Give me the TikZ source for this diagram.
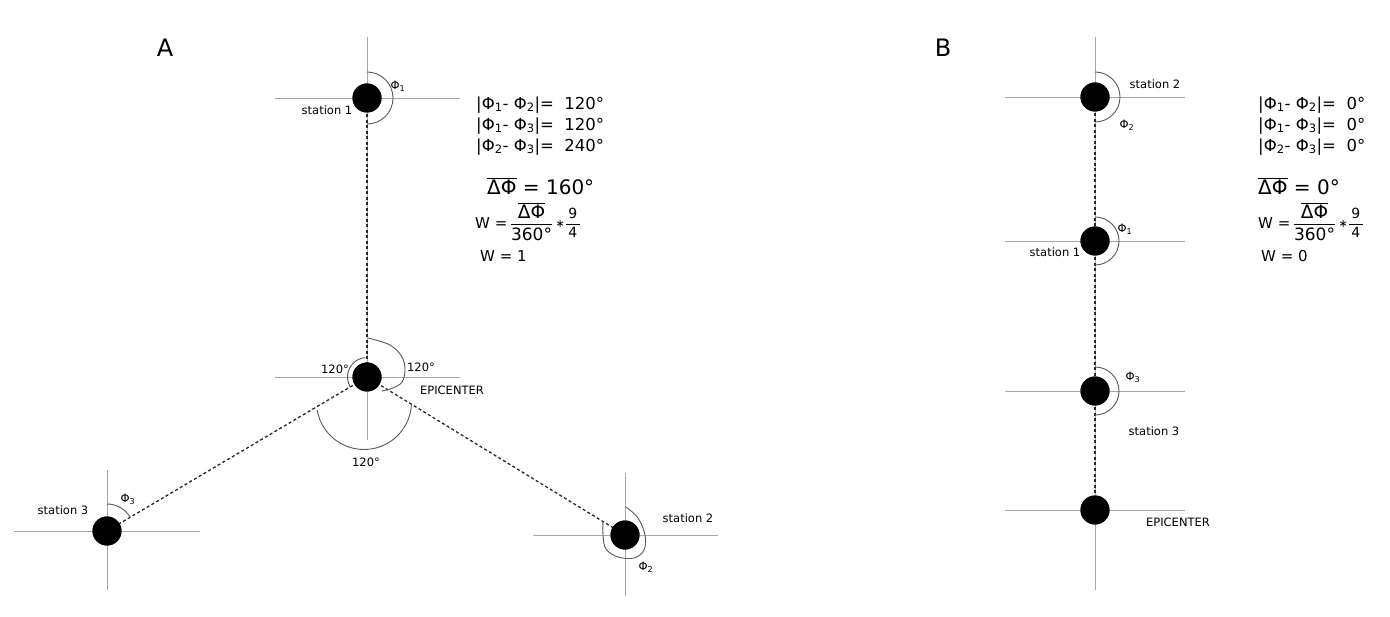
\documentclass[tikz,border=0pt]{standalone}
\usepackage{fontspec}
\setmainfont{DejaVu Sans}
\newcommand{\wfrac}{W =\,$\displaystyle\frac{\hbox{\fontsize{18.5}{21}\selectfont$\overline{\hbox{ΔΦ}}$}}{\hbox{\fontsize{17}{20}\selectfont\rule{0pt}{15pt}360°}}$\,\raisebox{1pt}{\fontsize{11}{12}\selectfont ∗}$\displaystyle\frac{\hbox{\fontsize{14}{16}\selectfont\,9\,}}{\hbox{\fontsize{14}{16}\selectfont\rule{0pt}{12pt}\,4\,}}$}
\begin{document}
\begin{tikzpicture}[x=1pt,y=1pt,
  axis/.style={draw=black!35, line width=0.7pt},
  ang/.style={draw=black!65, line width=0.9pt},
  link/.style={draw=black!85, line width=1.3pt, dash pattern=on 3pt off 2.5pt},
  dot/.style={circle, fill=black, inner sep=0pt, minimum size=29pt},
  lbl/.style={font=\fontsize{11.5}{13}\selectfont, inner sep=0pt},
  big/.style={font=\fontsize{24}{28}\selectfont, inner sep=0pt},
  eq/.style={font=\fontsize{16.5}{19}\selectfont, inner sep=0pt, anchor=west},
  eqw/.style={font=\fontsize{15}{18}\selectfont, inner sep=0pt, anchor=west},
  eqbig/.style={font=\fontsize{20}{24}\selectfont, inner sep=0pt, anchor=west}]
\useasboundingbox (0,-617) rectangle (1390,0);
\fill[white] (0,-617) rectangle (1390,0);

% ================= Panel A =================
\node[big] (labA) at (165,-48) {A};
% axes
\draw[axis] (275,-98) -- (460,-98);
\draw[axis] (367,-37) -- (367,-440);
\draw[axis] (275,-377) -- (460,-377);
\draw[axis] (14,-531) -- (200,-531);
\draw[axis] (107,-470) -- (107,-590);
\draw[axis] (533,-535) -- (718,-535);
\draw[axis] (625,-473) -- (625,-596);

\node[dot] (s1) at (367,-98) {};
\node[dot] (ep) at (367,-377) {};
\node[dot] (s3) at (107,-531) {};
\node[dot] (s2) at (625,-535) {};

\draw[link] (s1.center) -- (ep.center);
\draw[link] (ep.center) -- (s3.center);
\draw[link] (ep.center) -- (s2.center);
\fill[black] (ep) circle (14.5pt);
\fill[black] (s1) circle (14.5pt);
\fill[black] (s3) circle (14.5pt);
\fill[black] (s2) circle (14.5pt);

% angle arcs
\draw[ang] ([shift={(90:26)}]s1.center) arc[start angle=90, end angle=-90, radius=26];
\draw[ang] ([shift={(90:27)}]s3.center) arc[start angle=90, end angle=30.6, radius=27];
\draw[ang] plot[smooth, tension=0.6] coordinates {(626,-507) (638,-518) (645,-535) (644,-550) (634,-558) (618,-557) (606,-549) (603,-535) (603,-521)};
\draw[ang] plot[smooth, tension=0.6] coordinates {(368,-338) (390,-345) (402,-357) (405,-370) (402,-382) (393,-388) (382,-391)};
\draw[ang] ([shift={(95:19.5)}]ep.center) arc[start angle=95, end angle=212, radius=19.5];
\draw[ang] (364,-402) ++(189.7:47.5) arc[start angle=189.7, end angle=358.8, radius=47.5];

% labels
\node[lbl] (t1) at (327,-110) {station 1};
\node[lbl] (p1) at (398,-86) {Φ\textsubscript{1}};
\node[lbl] (aL) at (335,-369) {120°};
\node[lbl] (aR) at (421,-367) {120°};
\node[lbl] (aB) at (366,-462) {120°};
\node[lbl] (epl) at (452,-390) {EPICENTER};
\node[lbl] (t3) at (63,-510) {station 3};
\node[lbl] (p3) at (128,-499) {Φ\textsubscript{3}};
\node[lbl] (t2) at (688,-518) {station 2};
\node[lbl] (p2) at (646,-567) {Φ\textsubscript{2}};

% formulas A
\node[eq] (fa1) at (476,-105) {|Φ\textsubscript{1}- Φ\textsubscript{2}|=~~120°};
\node[eq] (fa2) at (476,-126) {|Φ\textsubscript{1}- Φ\textsubscript{3}|=~~120°};
\node[eq] (fa3) at (476,-147) {|Φ\textsubscript{2}- Φ\textsubscript{3}|=~~240°};
\node[eqbig] (fa4) at (487,-186) {$\overline{\hbox{ΔΦ}}$ = 160°};
\node[eqw] (fa5) at (475,-222) {\wfrac};
\node[eqw] (fa6) at (480,-256) {W = 1};

% ================= Panel B =================
\node[big] (labB) at (943,-48) {B};
\draw[axis] (1095,-37) -- (1095,-590);
\draw[axis] (1005,-97) -- (1185,-97);
\draw[axis] (1005,-241) -- (1185,-241);
\draw[axis] (1005,-391) -- (1185,-391);
\draw[axis] (1005,-510) -- (1185,-510);

\node[dot] (b2) at (1095,-97) {};
\node[dot] (b1) at (1095,-241) {};
\node[dot] (b3) at (1095,-391) {};
\node[dot] (bep) at (1095,-510) {};

\draw[link] (b2.center) -- (b1.center);
\draw[link] (b1.center) -- (b3.center);
\draw[link] (b3.center) -- (bep.center);
\fill[black] (b2) circle (14.5pt);
\fill[black] (b1) circle (14.5pt);
\fill[black] (b3) circle (14.5pt);
\fill[black] (bep) circle (14.5pt);

\draw[ang] ([shift={(90:25)}]b2.center) arc[start angle=90, end angle=-90, radius=25];
\draw[ang] ([shift={(90:24)}]b1.center) arc[start angle=90, end angle=-90, radius=24];
\draw[ang] ([shift={(90:24)}]b3.center) arc[start angle=90, end angle=-90, radius=24];

\node[lbl] (bt2) at (1155,-84) {station 2};
\node[lbl] (bp2) at (1127,-125) {Φ\textsubscript{2}};
\node[lbl] (bp1) at (1125,-229) {Φ\textsubscript{1}};
\node[lbl] (bt1) at (1055,-252) {station 1};
\node[lbl] (bp3) at (1133,-377) {Φ\textsubscript{3}};
\node[lbl] (bt3) at (1154,-431) {station 3};
\node[lbl] (bepl) at (1178,-522) {EPICENTER};

% formulas B
\node[eq] (fb1) at (1258,-105) {|Φ\textsubscript{1}- Φ\textsubscript{2}|=~~0°};
\node[eq] (fb2) at (1258,-126) {|Φ\textsubscript{1}- Φ\textsubscript{3}|=~~0°};
\node[eq] (fb3) at (1258,-147) {|Φ\textsubscript{2}- Φ\textsubscript{3}|=~~0°};
\node[eqbig] (fb4) at (1258,-186) {$\overline{\hbox{ΔΦ}}$ = 0°};
\node[eqw] (fb5) at (1258,-222) {\wfrac};
\node[eqw] (fb6) at (1261,-256) {W = 0};
\end{tikzpicture}
\end{document}
